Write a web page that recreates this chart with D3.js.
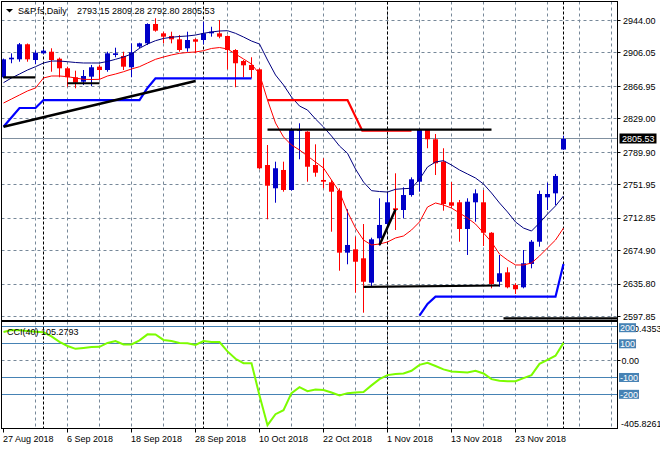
<!DOCTYPE html>
<html><head><meta charset="utf-8">
<script src="https://cdn.jsdelivr.net/npm/d3@7/dist/d3.min.js"></script>
<style>
html,body{margin:0;padding:0;background:#fff;}
svg{display:block;font-family:"Liberation Sans",Arial,sans-serif;font-size:9px;}
</style></head><body>
<svg id="c" width="660" height="450"></svg>
<script>
// ---------- DATA ----------
const symbolTitle = "S&P.fs,Daily";
const dates = ["2018-08-27","2018-08-28","2018-08-29","2018-08-30","2018-08-31",
"2018-09-03","2018-09-04","2018-09-05","2018-09-06","2018-09-07","2018-09-10","2018-09-11","2018-09-12","2018-09-13","2018-09-14",
"2018-09-17","2018-09-18","2018-09-19","2018-09-20","2018-09-21","2018-09-24","2018-09-25","2018-09-26","2018-09-27","2018-09-28",
"2018-10-01","2018-10-02","2018-10-03","2018-10-04","2018-10-05","2018-10-08","2018-10-09","2018-10-10","2018-10-11","2018-10-12",
"2018-10-15","2018-10-16","2018-10-17","2018-10-18","2018-10-19","2018-10-22","2018-10-23","2018-10-24","2018-10-25","2018-10-26",
"2018-10-29","2018-10-30","2018-10-31","2018-11-01","2018-11-02","2018-11-05","2018-11-06","2018-11-07","2018-11-08","2018-11-09",
"2018-11-12","2018-11-13","2018-11-14","2018-11-15","2018-11-16","2018-11-19","2018-11-20","2018-11-21","2018-11-22","2018-11-23",
"2018-11-26","2018-11-27","2018-11-28","2018-11-29","2018-11-30","2018-12-03"];
const open = [2877.6,2898.6,2898.6,2916.2,2897.8,2905.6,2907.5,2899.3,2888.1,2877.6,
2872.4,2878.3,2890.0,2886.1,2903.7,2902.5,2889.3,2913.4,2917.3,2939.9,
2929.0,2925.9,2922.0,2911.5,2922.0,2921.2,2929.0,2929.0,2925.9,2909.5,
2896.6,2892.0,2886.9,2775.0,2747.8,2769.2,2745.8,2815.1,2814.0,2775.0,
2757.5,2754.8,2745.0,2672.5,2676.4,2665.9,2637.4,2689.3,2706.0,2724.4,
2722.4,2739.9,2755.5,2815.9,2805.1,2778.9,2731.4,2731.4,2700.2,2731.4,
2731.4,2695.8,2638.5,2649.5,2634.7,2632.0,2659.3,2685.3,2737.2,2741.9,
2793.15];
const high = [2899.5,2905.6,2917.7,2917.1,2908.7,2910.3,2911.5,2900.7,2890.0,2885.3,
2886.1,2892.0,2892.0,2907.5,2912.2,2907.5,2917.3,2918.0,2940.7,2946.6,
2930.9,2930.9,2927.0,2930.9,2923.2,2942.6,2936.7,2944.6,2926.5,2910.5,
2897.8,2901.0,2888.1,2798.4,2778.9,2778.9,2817.9,2823.8,2814.5,2799.2,
2782.9,2757.5,2747.8,2723.2,2691.2,2706.0,2690.0,2736.1,2741.9,2765.3,
2748.9,2760.6,2817.5,2817.1,2811.3,2794.6,2755.1,2734.1,2736.1,2746.6,
2745.8,2696.5,2669.8,2655.4,2636.7,2675.6,2687.3,2745.0,2754.3,2764.5,
2809.28];
const low = [2876.5,2894.0,2895.8,2895.8,2893.1,2904.8,2884.1,2877.6,2866.6,2864.7,
2868.6,2867.4,2875.2,2884.1,2901.0,2886.1,2877.6,2911.5,2915.3,2930.9,
2917.3,2917.3,2907.5,2907.5,2905.6,2916.2,2925.1,2923.2,2886.9,2865.9,
2877.6,2876.4,2770.0,2711.5,2730.9,2743.8,2745.0,2781.7,2755.5,2761.3,
2747.8,2697.0,2651.4,2658.9,2625.7,2602.3,2632.7,2680.7,2703.7,2699.0,
2712.7,2738.0,2743.8,2794.6,2763.3,2721.6,2724.7,2685.3,2669.8,2708.7,
2680.3,2630.8,2632.7,2630.8,2624.2,2630.8,2654.2,2679.5,2722.4,2728.2,
2792.80];
const close = [2898.6,2900.5,2916.2,2898.6,2906.3,2908.7,2897.8,2888.1,2877.6,2871.3,
2879.1,2889.3,2886.1,2905.6,2905.6,2890.0,2906.8,2917.3,2939.9,2932.1,
2925.1,2922.0,2909.5,2921.2,2919.2,2929.0,2930.9,2925.1,2909.5,2894.0,
2891.6,2886.1,2771.2,2750.8,2771.2,2745.8,2816.8,2816.8,2773.0,2766.0,
2755.5,2743.8,2672.5,2681.5,2661.9,2638.5,2688.1,2704.9,2731.4,2722.4,
2739.9,2758.3,2816.8,2805.1,2777.0,2729.4,2727.4,2700.2,2732.1,2741.9,
2695.8,2635.8,2648.4,2632.0,2629.7,2660.1,2685.3,2741.1,2741.1,2762.2,
2805.53];
// upper (navy) and lower (red) moving-average lines
const maUpper = [2871.3,2876.8,2881.4,2886.1,2890.0,2894.3,2896.6,2896.6,2895.8,2894.9,
2894.3,2894.3,2894.3,2896.1,2898.6,2901.3,2904.8,2911.5,2916.5,2920.4,
2923.0,2924.4,2925.3,2925.9,2927.0,2929.0,2930.6,2931.7,2932.1,2929.0,
2924.7,2920.0,2916.5,2897.8,2880.3,2868.6,2854.5,2844.0,2839.3,2828.8,
2819.5,2808.9,2797.2,2788.7,2770.3,2755.1,2745.0,2744.0,2743.4,2746.6,
2747.3,2747.8,2758.3,2772.7,2778.5,2780.1,2775.0,2769.2,2764.5,2759.8,
2752.8,2742.3,2730.6,2720.1,2708.4,2701.3,2697.8,2707.2,2717.7,2727.1,
2738.8];
const maLower = [2847.5,2852.2,2856.9,2861.6,2865.1,2876.8,2879.1,2879.1,2878.3,2876.8,
2875.2,2875.0,2875.2,2879.1,2881.4,2884.1,2887.3,2890.0,2894.3,2898.6,
2901.3,2903.7,2905.6,2906.6,2907.2,2908.7,2911.3,2912.4,2910.7,2904.8,
2899.0,2893.1,2881.4,2851.0,2824.1,2807.8,2798.4,2792.6,2785.5,2778.5,
2771.5,2757.5,2743.4,2720.1,2701.3,2687.3,2681.5,2682.6,2685.0,2689.7,
2692.0,2699.0,2708.4,2725.9,2730.6,2728.2,2724.7,2718.9,2713.0,2706.0,
2695.5,2685.0,2670.9,2663.9,2658.1,2658.1,2660.4,2668.6,2678.0,2687.3,
2701.3];
const cci = [170,182,181,176,172,168,144,111,87,70,
75,81,82,105,116,96,96,120,156,155,
123,117,105,103,93,116,110,110,55,11,
-15,-15,-207,-383,-318,-294,-193,-157,-181,-171,
-174,-189,-207,-193,-189,-186,-147,-110,-86,-80,
-76,-60,-25,-13,-32,-52,-65,-68,-70,-60,
-76,-110,-119,-122,-122,-104,-86,-19,5,29,
105.2793];
const cciPeriod = 40;
const priceTicks = [2944.00,2906.05,2866.95,2829.00,2789.90,2751.95,2712.85,2674.90,2635.80,2597.85];
const cciLevels = [200,100,-100,-200];
const cciRange = [-405.8261,220.4353];
const dateTickIdx = [0,8,16,24,32,40,48,56,64];
const separatorIdx = [5,25,48,70];
// chart objects: [bar index, price]
const blueStopA = [[0,2819.8],[2,2841.7],[4,2841.7],[5,2851.0],[17,2851.0],[18,2865.1],[19,2876.4],[31,2876.4]];
const blueStopB = [[52,2598.8],[53,2612.5],[54,2621.0],[69,2621.0],[70,2659.2]];
const redStop = [[33,2851.0],[43,2851.0],[44.85,2815.1],[51,2815.1]];
const hLines = [[[0,2877.6],[4,2877.6]],[[8,2870.6],[12,2870.6]],[[33,2816.5],[61,2816.5]],[[45,2632.4],[62,2634.1]],[[62.5,2595.7],[78,2595.7]]];
const trendLines = [[[0,2819.8],[24,2873.3]],[[47,2681.5],[49,2723.0]]];

// ---------- LAYOUT ----------
const L = 1.5, R = 617.5, mTop = 1.5, mBot = 320.5, cTop = 321.5, cBot = 428.5;
const gridColor = "#778899", bull = "#0000c8", bear = "#ff0000";
const svg = d3.select("#c");
const parse = d3.timeParse("%Y-%m-%d");
const fmtDate = d3.timeFormat("%-d %b %Y");
const x = d3.scaleLinear().domain([0,1]).range([3.5,11.5]);
const y = d3.scaleLinear().domain([2597.85,2944.00]).range([316.5,20.5]);
const yc = d3.scaleLinear().domain(cciRange).range([429,323.5]);
const crisp = v => Math.round(v - 0.5) + 0.5;
const nGrid = d3.range(4, 77, 4);

const defs = svg.append("defs");
defs.append("clipPath").attr("id","cm").append("rect").attr("x",2).attr("y",2).attr("width",615).attr("height",318);
defs.append("clipPath").attr("id","cc").append("rect").attr("x",2).attr("y",322).attr("width",615).attr("height",106);

// ---------- MAIN PANEL ----------
const gm = svg.append("g").attr("clip-path","url(#cm)");
gm.selectAll("line.hg").data(priceTicks).join("line")
  .attr("x1",L).attr("x2",R).attr("y1",d=>crisp(y(d))).attr("y2",d=>crisp(y(d)))
  .attr("stroke",gridColor).attr("stroke-dasharray","3,3");
gm.selectAll("line.vg").data(nGrid).join("line")
  .attr("x1",d=>x(d)).attr("x2",d=>x(d)).attr("y1",mTop).attr("y2",mBot)
  .attr("stroke",gridColor).attr("stroke-dasharray","3,3");
gm.selectAll("line.sep").data(separatorIdx).join("line")
  .attr("x1",d=>x(d)).attr("x2",d=>x(d)).attr("y1",mTop).attr("y2",mBot)
  .attr("stroke","#000").attr("stroke-dasharray","3,2");
// bid line
const lastClose = close[close.length-1];
gm.append("line").attr("x1",L).attr("x2",R).attr("y1",crisp(y(lastClose))).attr("y2",crisp(y(lastClose)))
  .attr("stroke","#8090a0");

// candles
const idx = d3.range(dates.length);
const cg = gm.append("g");
cg.selectAll("line.w").data(idx).join("line")
  .attr("x1",i=>x(i)).attr("x2",i=>x(i))
  .attr("y1",i=>y(high[i])).attr("y2",i=>y(low[i]))
  .attr("stroke",i=>close[i]>=open[i]?bull:bear);
cg.selectAll("rect.b").data(idx).join("rect")
  .attr("x",i=>x(i)-2.5).attr("width",5)
  .attr("y",i=>y(Math.max(open[i],close[i])))
  .attr("height",i=>Math.max(1,Math.abs(y(open[i])-y(close[i]))))
  .attr("fill",i=>close[i]>=open[i]?bull:bear);

// MA lines
const ln = d3.line().x((d,i)=>x(i)).y(d=>y(d));
gm.append("path").attr("d",ln(maUpper)).attr("fill","none").attr("stroke","#000080").attr("stroke-width",1);
gm.append("path").attr("d",ln(maLower)).attr("fill","none").attr("stroke","#ff0000").attr("stroke-width",1);

// objects
const lp = d3.line().x(d=>x(d[0])).y(d=>y(d[1]));
gm.append("path").attr("d",lp(redStop)).attr("fill","none").attr("stroke","#ff0000").attr("stroke-width",2.2);
gm.append("path").attr("d",lp(blueStopA)).attr("fill","none").attr("stroke","#0000ff").attr("stroke-width",2.2);
gm.append("path").attr("d",lp(blueStopB)).attr("fill","none").attr("stroke","#0000ff").attr("stroke-width",2.2);
hLines.forEach(s=>gm.append("path").attr("d",lp(s)).attr("fill","none").attr("stroke","#000").attr("stroke-width",2.2));
trendLines.forEach(s=>gm.append("path").attr("d",lp(s)).attr("fill","none").attr("stroke","#000").attr("stroke-width",2.5));

// ---------- CCI PANEL ----------
const gc = svg.append("g").attr("clip-path","url(#cc)");
gc.selectAll("line.vg").data(nGrid).join("line")
  .attr("x1",d=>x(d)).attr("x2",d=>x(d)).attr("y1",cTop).attr("y2",cBot)
  .attr("stroke",gridColor).attr("stroke-dasharray","3,3");
gc.selectAll("line.sep").data(separatorIdx).join("line")
  .attr("x1",d=>x(d)).attr("x2",d=>x(d)).attr("y1",cTop).attr("y2",cBot)
  .attr("stroke","#000").attr("stroke-dasharray","3,2");
gc.append("line").attr("x1",L).attr("x2",R).attr("y1",crisp(yc(0))).attr("y2",crisp(yc(0)))
  .attr("stroke",gridColor).attr("stroke-dasharray","3,3");
gc.selectAll("line.lv").data(cciLevels).join("line")
  .attr("x1",L).attr("x2",R).attr("y1",d=>crisp(yc(d))).attr("y2",d=>crisp(yc(d)))
  .attr("stroke","#4682b4");
gc.append("path").attr("d",d3.line().x((d,i)=>x(i)).y(d=>yc(d))(cci))
  .attr("fill","none").attr("stroke","#7cfc00").attr("stroke-width",2);

// ---------- FRAMES & AXES ----------
svg.append("rect").attr("x",L).attr("y",mTop).attr("width",R-L).attr("height",mBot-mTop).attr("fill","none").attr("stroke","#000");
svg.append("rect").attr("x",L).attr("y",cTop).attr("width",R-L).attr("height",cBot-cTop).attr("fill","none").attr("stroke","#000");

// price axis labels
svg.selectAll("line.pt").data(priceTicks).join("line")
  .attr("x1",R).attr("x2",R+3).attr("y1",d=>crisp(y(d))).attr("y2",d=>crisp(y(d))).attr("stroke","#000");
svg.selectAll("text.pl").data(priceTicks).join("text")
  .attr("x",623).attr("y",d=>y(d)+3.3).attr("fill","#000").text(d=>d.toFixed(2));
// bid label
svg.append("rect").attr("x",619.5).attr("y",crisp(y(lastClose))-5).attr("width",37).attr("height",10).attr("fill","#000");
svg.append("text").attr("x",622).attr("y",y(lastClose)+3.3).attr("fill","#fff").text(lastClose.toFixed(2));

// CCI axis labels
svg.append("text").attr("x",624).attr("y",yc(cciRange[1])+8).attr("fill","#000").text(cciRange[1].toFixed(4));
svg.append("text").attr("x",621).attr("y",yc(cciRange[0])-2).attr("fill","#000").text(cciRange[0].toFixed(4));
svg.append("text").attr("x",621.5).attr("y",yc(0)+3.3).attr("fill","#000").text("0.00");
svg.append("line").attr("x1",R).attr("x2",R+3).attr("y1",crisp(yc(0))).attr("y2",crisp(yc(0))).attr("stroke","#000");
cciLevels.forEach(v=>{
  const yy = Math.max(yc(v), 327.7);
  const t = svg.append("text").attr("x",620).attr("y",yy+3.3).attr("fill","#fff").text(String(v));
  const bb = t.node().getBBox();
  svg.insert("rect","text:last-of-type").attr("x",619).attr("y",yy-4.5).attr("width",bb.width+2).attr("height",9).attr("fill","#4682b4");
  t.raise();
});

// date axis
svg.selectAll("line.dt").data(dateTickIdx).join("line")
  .attr("x1",d=>x(d)).attr("x2",d=>x(d)).attr("y1",cBot).attr("y2",cBot+4).attr("stroke","#000");
svg.selectAll("text.dl").data(dateTickIdx).join("text")
  .attr("x",d=>x(d)-0.5).attr("y",442).attr("fill","#000").text(d=>fmtDate(parse(dates[d])));

// titles
svg.append("path").attr("d","M6,9 L13,9 L9.5,12.5 Z").attr("fill","#000");
svg.append("text").attr("x",18).attr("y",13.5).attr("fill","#000").text(symbolTitle);
svg.append("text").attr("x",77).attr("y",13.5).attr("fill","#000")
  .text([open,high,low,close].map(a=>a[a.length-1].toFixed(2)).join(" "));
svg.append("text").attr("x",7).attr("y",335).attr("fill","#000")
  .text(`CCI(${cciPeriod}) ${cci[cci.length-1].toFixed(4)}`);
</script>
</body></html>
